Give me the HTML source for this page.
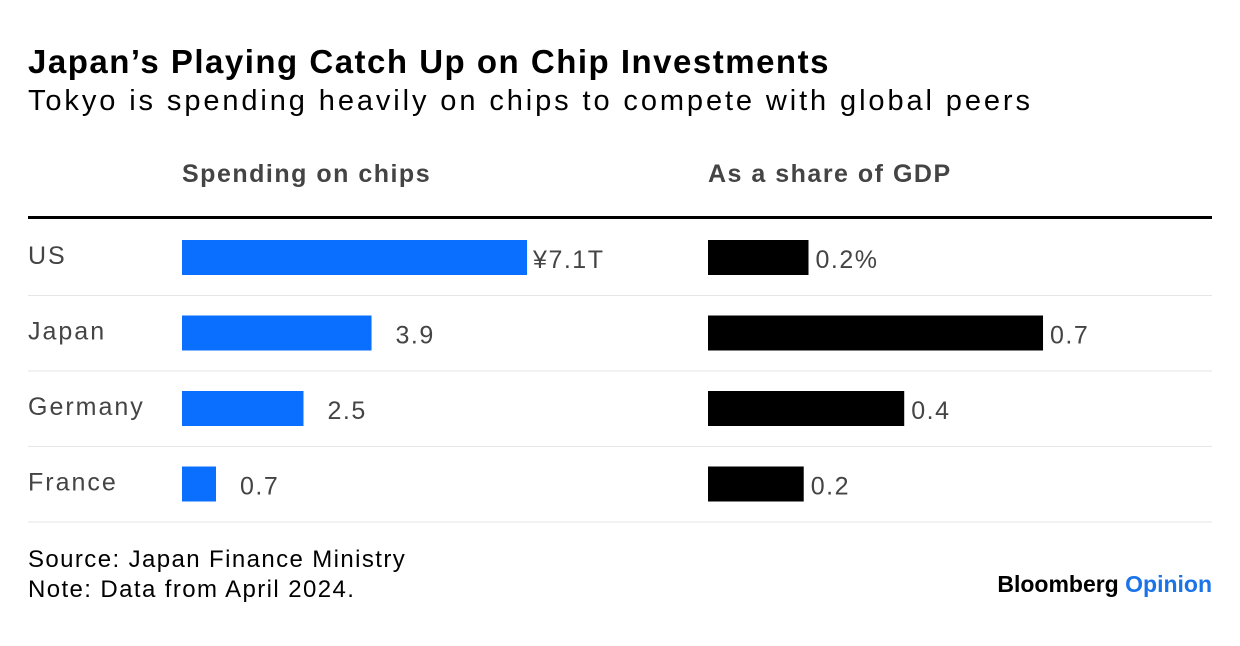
<!DOCTYPE html>
<html><head><meta charset="utf-8">
<style>
body{margin:0;width:1240px;height:646px;background:#fff;font-family:"Liberation Sans",Arial,sans-serif;overflow:hidden;position:relative}
.a{position:absolute;white-space:nowrap}
</style></head><body>
<div class="a" style="left:28px;top:43px;font-size:33px;font-weight:bold;color:#000;letter-spacing:1.5px">Japan’s Playing Catch Up on Chip Investments</div>
<div class="a" style="left:28px;top:85px;font-size:29px;color:#000;letter-spacing:2.9px">Tokyo is spending heavily on chips to compete with global peers</div>
<div class="a" style="left:182px;top:160px;font-size:25px;font-weight:bold;color:#444;letter-spacing:1.5px">Spending on chips</div>
<div class="a" style="left:708px;top:160px;font-size:25px;font-weight:bold;color:#444;letter-spacing:1.5px">As a share of GDP</div>
<div class="a" style="left:28px;top:216px;width:1184px;height:3px;background:#000"></div>
<svg id="chart" class="a" style="left:0;top:0" width="1240" height="646"></svg>
<div class="a" style="left:28px;top:545px;font-size:24px;color:#000;line-height:30px;letter-spacing:1.4px">Source: Japan Finance Ministry<br>Note: Data from April 2024.</div>
<div class="a" style="right:28px;top:571px;font-size:23px;font-weight:bold;letter-spacing:0px"><span style="color:#000">Bloomberg</span> <span style="color:#1a73e8">Opinion</span></div>
<script>
const countries=["US","Japan","Germany","France"];
const spending=[7.1,3.9,2.5,0.7];
const spendingLabels=["¥7.1T","3.9","2.5","0.7"];
const gdpShare=[0.21,0.7,0.41,0.2];
const gdpLabels=["0.2%","0.7","0.4","0.2"];
const NS="http://www.w3.org/2000/svg";
const svg=document.getElementById("chart");
const rowY=i=>240+i*75.5;
const xS=v=>v*48.6;
const xG=v=>v*478.6;
function mk(t,a){const e=document.createElementNS(NS,t);for(const k in a)e.setAttribute(k,a[k]);svg.appendChild(e);return e;}
countries.forEach((c,i)=>{
  const y=rowY(i);
  let t=mk("text",{x:28,y:y+24,"font-size":25,fill:"#444","letter-spacing":2});t.textContent=c;
  
  
  let b=mk("rect",{x:182,y:y,width:xS(spending[i]),height:35,fill:"#0a6fff"});
  
  
  let l=mk("text",{x:182+xS(spending[i])+(i===0?6:24),y:y+28,"font-size":25,fill:"#444","letter-spacing":1.5});l.textContent=spendingLabels[i];
  
  
  let g=mk("rect",{x:708,y:y,width:xG(gdpShare[i]),height:35,fill:"#000"});
  
  
  let gl=mk("text",{x:708+xG(gdpShare[i])+7,y:y+28,"font-size":25,fill:"#444","letter-spacing":1.5});gl.textContent=gdpLabels[i];
  
  
  let s=mk("rect",{x:28,y:y+55,width:1184,height:1,fill:"#e6e6e6"});
  
  
});
</script>
</body></html>
